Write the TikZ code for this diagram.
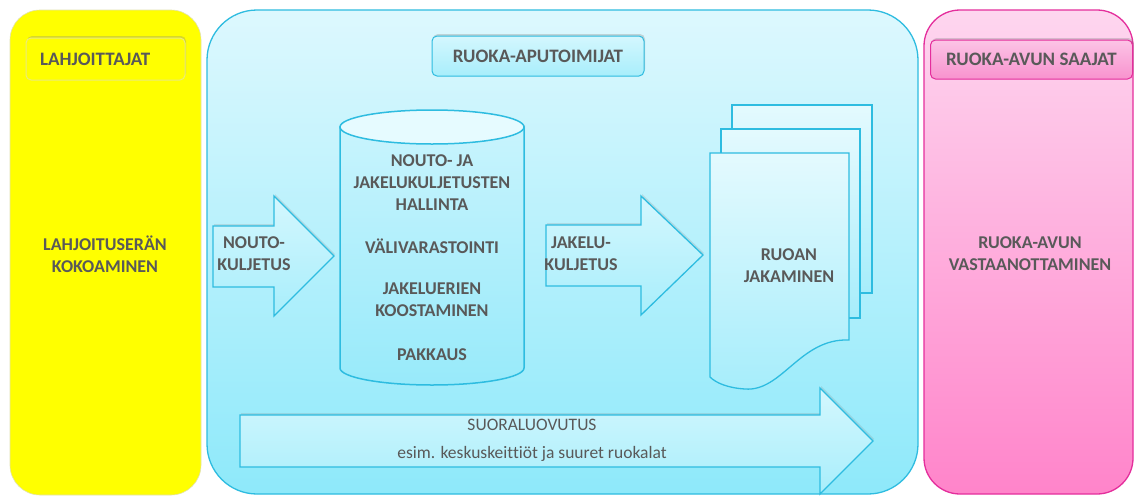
\documentclass[tikz,border=0pt]{standalone}
\usepackage{fontspec}
\setmainfont[Ligatures=NoCommon]{Carlito}
\usetikzlibrary{shadows}
\definecolor{txt}{HTML}{595959}
\definecolor{yel}{HTML}{FFFF00}
\definecolor{yelB}{HTML}{E2E2B0}
\definecolor{bTop}{HTML}{DDF8FE}
\definecolor{bBot}{HTML}{8EE9FA}
\definecolor{bLine}{HTML}{2EBCE0}
\definecolor{aTop}{HTML}{D4F7FE}
\definecolor{aBot}{HTML}{A8EEFB}
\definecolor{cTop}{HTML}{C8F4FD}
\definecolor{cBot}{HTML}{98EAFA}
\definecolor{cLid}{HTML}{E6FBFF}
\definecolor{pgTop}{HTML}{E4FAFE}
\definecolor{pgBot}{HTML}{A6EDFB}
\definecolor{pTop}{HTML}{FED6EF}
\definecolor{pBot}{HTML}{FF84CA}
\definecolor{pLine}{HTML}{E42E9C}
\definecolor{phTop}{HTML}{FCC4E6}
\definecolor{phBot}{HTML}{F892CE}
\tikzset{
  lbl/.style={text=txt, align=center, font=\bfseries\fontsize{18}{22}\selectfont},
  lblreg/.style={text=txt, align=center, font=\fontsize{17.5}{28}\selectfont},
  hdr/.style={text=txt, font=\bfseries\fontsize{19}{20}\selectfont, rounded corners=5pt, line width=1pt,
    drop shadow={opacity=0.3, shadow xshift=1pt, shadow yshift=2pt}},
  cyanshape/.style={draw=bLine, line width=1.3pt, top color=aTop, bottom color=aBot,
    drop shadow={opacity=0.2, shadow xshift=1pt, shadow yshift=2pt}},
  page/.style={draw=bLine, line width=1.3pt, top color=pgTop, bottom color=pgBot},
}
\begin{document}
\begin{tikzpicture}[x=1pt,y=-1pt]
\useasboundingbox (0,0) rectangle (1135,496);
\fill[white] (0,0) rectangle (1135,496);
% panels
\path[draw=yelB, line width=0.6pt, fill=yel, rounded corners=30pt] (10,10) rectangle (201,495);
\path[draw=bLine, line width=1.3pt, top color=bTop, bottom color=bBot, rounded corners=50pt] (207,10) rectangle (918,494);
\path[draw=pLine, line width=1.3pt, top color=pTop, bottom color=pBot, rounded corners=36pt] (924,10) rectangle (1133,494);
% headers
\node[hdr, draw=yelB!70!yel, fill=yel, minimum width=159pt, minimum height=42pt, text width=131pt, align=left] (lahjH) at (105.5,59) {LAHJOITTAJAT};
\node[hdr, draw=bLine, top color=aTop, bottom color=aBot, minimum width=212pt, minimum height=40pt] (aptH) at (538,56) {RUOKA-APUTOIMIJAT};
\node[hdr, draw=pLine, top color=phTop, bottom color=phBot, minimum width=202pt, minimum height=39pt] (saaH) at (1031.5,59.5) {RUOKA-AVUN SAAJAT};
% side texts
\node[lbl] (lahjT) at (105,254) {LAHJOITUSERÄN\\KOKOAMINEN};
\node[lbl] (saaT) at (1030,254) {RUOKA-AVUN\\VASTAANOTTAMINEN};
% nouto arrow
\path[cyanshape] (213,226) -- (274,226) -- (274,196) -- (334,256) -- (274,316) -- (274,287) -- (213,287) -- cycle;
\node[lbl] (noutoT) at (254,254) {NOUTO-\\KULJETUS};
% cylinder
\path[draw=bLine, line width=1.5pt, top color=cTop, bottom color=cBot,
  drop shadow={opacity=0.2, shadow xshift=1pt, shadow yshift=2pt}]
  (340,127) -- (340,368) arc[start angle=180, end angle=0, x radius=92, y radius=17] -- (524,127) -- cycle;
\path[draw=bLine, line width=1.5pt, fill=cLid] (432,127) ellipse [x radius=92, y radius=17];
\node[lbl] (cyl1) at (432,183) {NOUTO- JA\\JAKELUKULJETUSTEN\\HALLINTA};
\node[lbl] (cyl2) at (432,246) {VÄLIVARASTOINTI};
\node[lbl] (cyl3) at (432,300) {JAKELUERIEN\\KOOSTAMINEN};
\node[lbl] (cyl4) at (432,355) {PAKKAUS};
% jakelu arrow
\path[cyanshape] (546,225) -- (641,225) -- (641,196) -- (703,255) -- (641,315) -- (641,286) -- (546,286) -- cycle;
\node[lbl] (jakT) at (581,254) {JAKELU-\\KULJETUS};
% documents
\path[page] (732,105) rectangle (872,293);
\path[page] (721,129) rectangle (860,318);
\path[page] (710,153) -- (849,153) -- (849,340) .. controls (800,338) and (782,392) .. (745,389) .. controls (728,388) and (716,383) .. (710,377) -- cycle;
\node[lbl] (ruoT) at (789,266) {RUOAN\\JAKAMINEN};
% suoraluovutus arrow
\path[cyanshape] (240,415) -- (820,415) -- (820,388) -- (873,441) -- (820,494) -- (820,467) -- (240,467) -- cycle;
\node[lblreg] (suoT) at (532,440) {SUORALUOVUTUS\\esim. keskuskeittiöt ja suuret ruokalat};
\end{tikzpicture}
\end{document}
